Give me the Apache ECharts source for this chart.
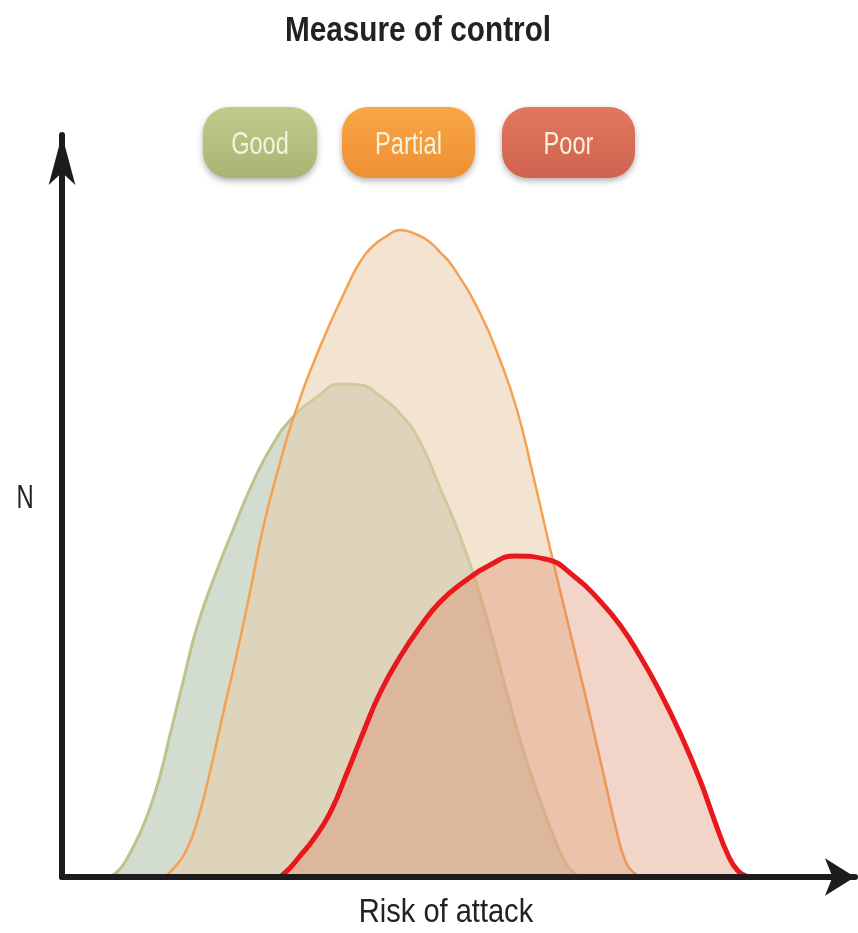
<!DOCTYPE html>
<html>
<head>
<meta charset="utf-8">
<script src="https://cdn.jsdelivr.net/npm/echarts@6.0.0/dist/echarts.min.js"></script>
<style>html,body{margin:0;padding:0;background:#fff;}#c{width:858px;height:933px;}</style>
</head>
<body>
<div id="c"></div>
<script>
// ---- data ----
const titleText = 'Measure of control';
const categories = ['Good', 'Partial', 'Poor'];
const xName = 'Risk of attack';
const yName = 'N';

const goodX = [6.05, 7.31, 8.58, 9.84, 11.10, 12.36, 13.62, 15.26, 17.02, 19.55, 21.56, 24.09, 26.61, 29.13, 32.16, 35.06, 37.58, 40.10, 43.00, 45.15, 47.67, 50.19, 52.71, 55.23, 57.76, 60.28, 62.17, 63.68, 65.32];
const goodY = [0, 1.08, 3.23, 5.93, 9.30, 13.61, 19.14, 26.28, 33.69, 41.37, 46.77, 53.23, 58.36, 62.00, 64.69, 66.44, 66.31, 64.82, 62.00, 58.63, 52.43, 45.96, 38.01, 28.30, 18.46, 10.38, 4.99, 1.62, 0];

const partialX = [12.99, 14.00, 15.51, 17.02, 18.66, 20.30, 22.07, 23.71, 25.35, 27.24, 29.13, 32.53, 35.94, 37.58, 39.22, 40.98, 42.62, 44.26, 46.03, 47.67, 49.31, 52.71, 55.23, 57.38, 59.40, 61.54, 63.43, 65.32, 67.21, 68.73, 69.99, 71.00, 72.01, 73.14];
const partialY = [0, 1.08, 3.23, 7.41, 14.15, 21.97, 30.19, 38.41, 47.04, 54.85, 61.73, 71.43, 79.51, 82.88, 85.04, 86.39, 87.20, 86.79, 85.85, 84.23, 82.21, 76.01, 69.68, 62.94, 54.18, 44.34, 35.85, 27.49, 18.87, 11.73, 5.93, 2.29, 0.67, 0];

const poorX = [27.49, 28.75, 30.01, 31.65, 33.80, 35.94, 37.96, 40.10, 42.62, 45.15, 47.67, 50.82, 53.97, 57.12, 60.91, 64.69, 67.84, 70.37, 72.89, 75.41, 77.93, 80.45, 82.35, 83.98, 85.25, 86.51];
const poorY = [0, 1.21, 2.83, 4.99, 8.63, 14.02, 19.41, 24.80, 29.65, 33.69, 37.06, 39.89, 42.05, 43.26, 42.86, 40.43, 37.20, 33.96, 29.78, 24.93, 19.41, 13.07, 7.41, 2.96, 0.81, 0];

// ---- styles ----
const FONT = '"Liberation Sans", Arial, sans-serif';
const lineColors = ['#bcc48c', '#f4a152', '#e8191c'];
const lineWidths = [3, 2.5, 5];
const fillColors = ['rgba(180,196,175,0.6)', 'rgba(232,204,170,0.53)', 'rgba(221,132,98,0.35)'];
const btnTop = ['#c0ca8c', '#f8a646', '#e2775f'];
const btnBot = ['#a8b474', '#ee9034', '#cf6350'];
const btnBox = [[203, 114], [342, 133], [502, 133]];

const seriesData = [goodX, partialX, poorX].map((xs, k) => {
  const ys = [goodY, partialY, poorY][k];
  return xs.map((x, i) => [x, ys[i]]);
});

const chart = echarts.init(document.getElementById('c'), null, {renderer: 'canvas'});

const buttonGraphics = categories.map((name, i) => ({
  type: 'group',
  x: btnBox[i][0],
  y: 107,
  children: [
    {
      type: 'rect',
      shape: {x: 0, y: 0, width: btnBox[i][1], height: 71, r: 26},
      style: {
        fill: new echarts.graphic.LinearGradient(0, 0, 0, 1, [
          {offset: 0, color: btnTop[i]}, {offset: 1, color: btnBot[i]}
        ]),
        shadowBlur: 6, shadowColor: 'rgba(0,0,0,0.3)', shadowOffsetY: 3
      }
    },
    {
      type: 'text',
      x: btnBox[i][1] / 2, y: 38, scaleX: 0.76,
      style: {
        text: name, fill: '#f6f2dc', font: '31px ' + FONT,
        textAlign: 'center', textVerticalAlign: 'middle'
      }
    }
  ]
}));

const textGraphics = [
  {type: 'text', x: 418, y: 31, scaleX: 0.85,
   style: {text: titleText, fill: '#222222', font: 'bold 35px ' + FONT, textAlign: 'center', textVerticalAlign: 'middle'}},
  {type: 'text', x: 446, y: 913, scaleX: 0.88,
   style: {text: xName, fill: '#222222', font: '33px ' + FONT, textAlign: 'center', textVerticalAlign: 'middle'}},
  {type: 'text', x: 25, y: 499, scaleX: 0.7,
   style: {text: yName, fill: '#222222', font: '34px ' + FONT, textAlign: 'center', textVerticalAlign: 'middle'}}
];

const option = {
  animation: false,
  backgroundColor: '#ffffff',
  grid: {left: 62, right: 3, top: 135, bottom: 56, containLabel: false, outerBoundsMode: 'none'},
  xAxis: {
    type: 'value', min: 0, max: 100, z: 10,
    axisLine: {onZero: false, show: true, symbol: ['none', 'arrow'], symbolSize: [28, 30],
      lineStyle: {color: '#1e1b1c', width: 6}},
    axisTick: {show: false}, axisLabel: {show: false}, splitLine: {show: false}
  },
  yAxis: {
    type: 'value', min: 0, max: 100, z: 10,
    axisLine: {onZero: false, show: true, symbol: ['none', 'arrow'], symbolSize: [20, 50],
      lineStyle: {color: '#1e1b1c', width: 6}},
    axisTick: {show: false}, axisLabel: {show: false}, splitLine: {show: false}
  },
  graphic: buttonGraphics.concat(textGraphics),
  series: categories.map((name, k) => ({
    name: name, type: 'line', data: seriesData[k], smooth: 0.5,
    showSymbol: false, symbol: 'none',
    lineStyle: {color: lineColors[k], width: lineWidths[k]},
    areaStyle: {color: fillColors[k], opacity: 1, origin: 'start'},
    z: 2 + k
  }))
};
chart.setOption(option);
</script>
</body>
</html>
